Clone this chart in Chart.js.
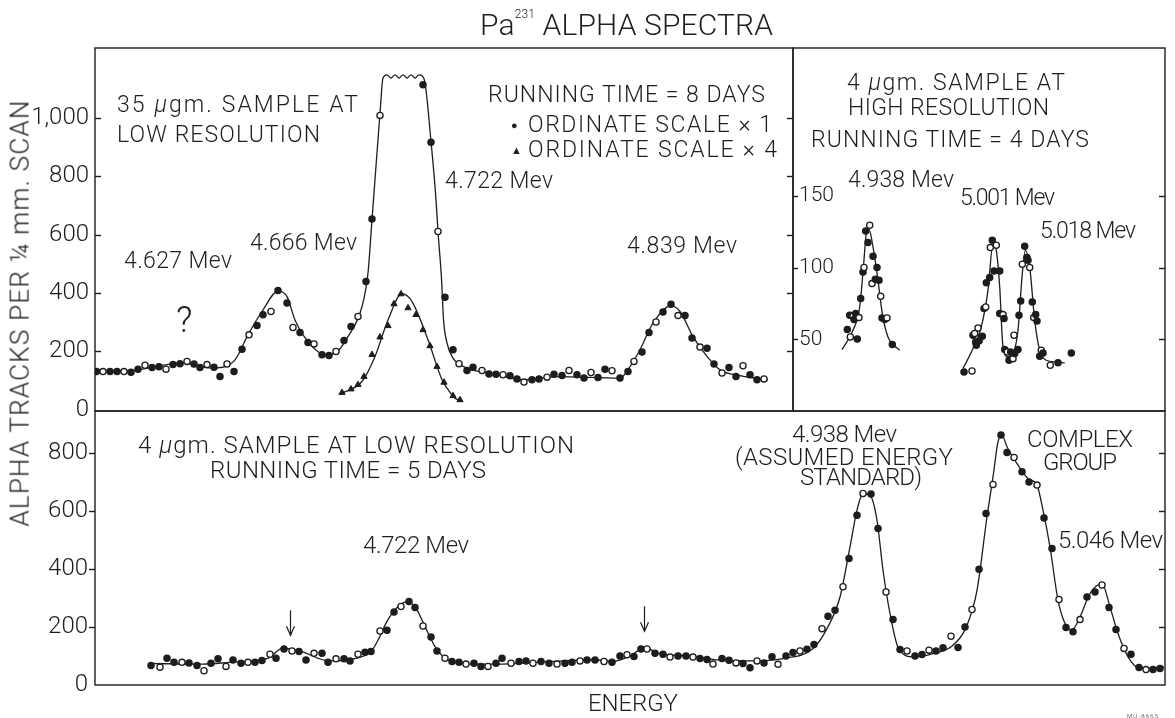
<!DOCTYPE html>
<html><head><meta charset="utf-8">
<script src="https://cdn.jsdelivr.net/npm/chart.js@4.4.1/dist/chart.umd.min.js"></script>
<style>
html,body{margin:0;padding:0;background:#fff;}
#wrap{position:relative;width:1175px;height:718px;overflow:hidden;background:#fff;}
#wrap canvas{position:absolute;left:0;top:0;}
.t{position:absolute;white-space:nowrap;line-height:1;color:#1e1e1e;font-family:Roboto,"Liberation Sans",sans-serif;font-weight:300;}
</style></head>
<body><div id="wrap">
<canvas id="cA" width="1175" height="718"></canvas>
<canvas id="cB" width="1175" height="718"></canvas>
<canvas id="cC" width="1175" height="718"></canvas>
</div>
<script>
// ---------- DATA (x = scan position along the energy axis, arbitrary units; y = alpha tracks per 1/4 mm scan) ----------
// Panel A: 35 µgm sample at low resolution, ordinate scale x1
const lowRes35_scale1 = [[0.15,131],[0.8,131],[1.5,131],[2.2,131],[2.9,131],[3.6,129],[4.3,139],[5.0,153],[5.7,145],[6.4,148],[7.1,139],[7.8,155],[8.5,158],[9.2,166],[9.9,157],[10.5,145],[11.2,155],[11.9,146],[12.5,114],[13.2,157],[13.9,131],
 [14.7,208],[15.4,257],[16.2,289],[16.8,326],[17.6,337],[18.3,409],[19.2,366],[19.8,282],[20.5,265],[21.3,231],[21.9,226],[22.7,189],[23.4,186],[24.1,200],[24.9,238],[25.6,286],[26.3,320],[27.1,440],[27.7,654],[28.5,1009],
 [32.8,1114],[33.6,917],[34.3,611],[35.0,386],[35.8,206],[36.4,158],[37.2,135],[37.8,146],[38.7,135],[39.4,123],[40.1,122],[40.8,120],[41.5,117],[42.2,106],[42.9,95],[43.7,103],[44.4,106],[45.2,112],[45.9,122],[46.7,118],[47.4,135],[48.2,120],[48.9,109],[49.6,128],[50.3,111],[51.0,139],[51.7,134],[52.5,109],[53.3,131],[53.9,166],[54.7,198],[55.4,265],[56.1,301],[56.8,335],[57.6,362],[58.3,323],[59.0,323],[59.7,246],[60.5,215],[61.2,211],[61.9,157],[62.7,126],[63.4,145],[64.1,114],[64.8,151],[65.5,120],[66.2,103],[66.9,106]];
const lowRes35_curve1 = [[0,131],[3.3,133],[8.7,160],[11.7,143],[13.0,148],[14.0,171],[15.3,257],[16.7,337],[18.3,406],[19.2,388],[20.0,308],[21.3,234],[23.0,189],[24.0,194],[25.3,251],[26.7,354],[27.3,469],[27.7,651],[28.5,1017],[28.8,1137],
 [29.2,1148],[29.6,1137],[30.0,1148],[30.4,1137],[30.8,1148],[31.2,1137],[31.6,1148],[32.0,1137],[32.4,1148],[32.9,1135],
 [33.6,920],[34.1,720],[34.3,611],[34.65,450],[34.85,310],[35.2,229],[35.8,177],[37.2,143],[39.5,126],[42.8,103],[46.2,114],[52.5,109],[53.5,148],[54.5,206],[55.8,297],[57.6,356],[58.5,337],[59.8,251],[61.2,183],[62.5,137],[64.5,117],[67.3,103]];
// Panel A: ordinate scale x4 (4.722 Mev peak)
const lowRes35_scale4 = [[24.7,59],[25.6,71],[26.3,86],[26.9,114],[27.7,189],[28.5,249],[29.3,288],[29.9,363],[30.6,397],[31.3,349],[32.1,326],[32.8,274],[33.5,219],[34.2,148],[34.9,94],[35.8,48],[36.5,34]];
const lowRes35_curve4 = [[24.7,57],[26.7,97],[28.0,183],[29.3,308],[30.7,398],[31.7,371],[33.3,240],[34.7,103],[35.2,74],[36.0,40],[36.7,30]];

// Panel B: 4 µgm sample at high resolution
const highRes4_points = [[5.43,56.8],[5.73,51.6],[6.43,50.2],[5.67,66.7],[6.0,66.0],[6.27,67.9],[6.1,63.7],[6.6,65.1],[6.77,78.4],[7.0,96.9],[7.1,100],[7.27,125.5],[7.5,117.4],[7.67,129.5],[8.0,107.9],[8.4,100],[7.9,88.8],[8.23,91.8],[8.6,91.1],[8.77,80],[8.9,64.9],[9.17,63.7],[9.4,64.9],[9.93,46.3],
 [17.1,27.2],[17.9,27.9],[18.27,48.1],[18.0,52.8],[18.17,54],[18.33,45.8],[18.6,48.8],[18.5,57.9],[18.93,52.1],[19.1,71.4],[19.27,72.5],[19.33,89.3],[19.67,93],[19.73,113.9],[19.93,119],[20.1,97.6],[20.33,115.5],[20.67,97.6],[20.67,67.9],[21.0,67.2],[21.1,64.4],[21.17,42.8],[21.43,41.1],[21.6,35.4],[21.77,41.1],[22.0,36.5],[22.17,40],[22.5,42.8],[22.1,52.8],[22.6,66.7],[22.77,76.7],[22.93,102.3],[23.17,114.9],[23.4,107],[23.67,100],[23.5,105.1],[23.93,76],[24.07,65.1],[24.27,67.2],[24.4,62.8],[24.83,42.3],[24.67,38.1],[25.0,40.4],[25.73,31.9],[26.5,33.7],[27.83,40.4]];
const highRes4_curve4938 = [[4.9,42.8],[6.0,56.3],[6.67,72.5],[7.07,102.8],[7.33,123.7],[7.6,126.5],[8.0,114.4],[8.5,91.1],[8.93,67.9],[9.5,51.6],[10.67,42.3]];
const highRes4_curve5001 = [[17.0,29.6],[18.0,43.5],[18.83,58.6],[19.5,84.2],[20.0,116.7],[20.33,112],[20.67,86.5],[21.0,44.6],[21.5,37.7],[22.0,40],[22.5,56.3],[22.93,95.8],[23.23,112],[23.67,100.4],[24.17,63.2],[24.67,42.3],[25.33,35.4],[26.33,34.2],[27.17,33.5]];

// Panel C: 4 µgm sample at low resolution
const lowRes4_points = [[5.6,67],[6.5,61],[7.2,92],[7.9,78],[8.7,78],[9.4,76],[10.2,67],[10.9,49],[11.6,75],[12.3,90],[13.1,64],[13.8,86],[14.6,75],[15.3,78],[16.0,78],[16.7,84],[17.5,106],[18.1,92],[18.9,124],[19.7,117],[20.4,115],[21.1,86],[21.9,109],[22.7,109],[23.3,78],[24.1,90],[24.9,90],[25.5,83],[26.3,106],[27.0,113],[27.6,115],[28.5,186],[29.2,188],[29.9,251],[30.6,270],[31.4,287],[32.0,267],[32.8,203],[33.6,165],[34.2,117],[35.0,92],[35.7,81],[36.4,78],[37.1,72],[37.9,75],[38.6,64],[39.3,64],[40.1,75],[40.7,92],[41.6,75],[42.4,81],[43.1,83],[43.8,75],[44.6,81],[45.4,75],[46.2,72],[47.0,75],[47.7,78],[48.5,83],[49.2,86],[50.0,86],
 [50.9,81],[51.7,78],[52.5,100],[53.2,104],[53.9,98],[54.6,124],[55.2,124],[56.0,109],[56.8,106],[57.5,96],[58.3,100],[59.1,100],[59.8,96],
 [60.5,91],[61.2,88],[61.8,72],[62.7,91],[63.4,85],[64.1,76],[64.8,74],[65.5,59],[66.2,83],[66.9,76],[67.7,97],[68.3,71],[69.1,100],[69.8,112],[70.5,117],[71.2,123],[71.9,139],[72.7,194],[73.3,237],[74.0,257],[74.8,338],[75.4,435],[76.2,584],[76.8,659],[77.6,657],[78.3,539],[79.1,320],[79.8,225],[80.5,122],[81.2,117],[82.0,100],[82.7,105],[83.4,120],[84.1,117],[84.8,128],[85.6,168],[86.3,129],[87.0,200],[87.7,260],[88.4,398],[89.1,590],[89.8,690],[90.6,860],[91.2,800],[91.9,783],[92.7,734],[93.4,699],[94.2,688],[94.9,575],[95.7,470],[96.4,294],[97.1,198],[97.8,183],[98.5,225],[99.2,303],[100.0,320],[100.7,344],[101.4,267],[102.1,191],[102.9,126],[103.6,106],[104.4,60],[105.1,53],[105.8,53],[106.5,57]];
const lowRes4_curve = [[5.6,74],[10.8,72],[13.5,78],[17.3,92],[18.8,127],[20.7,115],[22.3,92],[23.4,83],[26.1,92],[27.6,115],[28.4,161],[29.2,219],[30.3,270],[31.3,287],[32.2,258],[33.0,201],[34.1,127],[35.3,86],[37.6,72],[40.3,72],[44.1,78],[50.2,86],[51.8,81],[53.7,104],[54.9,129],[56.4,109],[59.4,100],[62.5,86],[65.5,83],[68.8,91],[71.8,126],[73.2,194],[74.5,303],[75.5,475],[76.2,602],[76.8,659],[77.5,653],[78.2,567],[78.8,395],[79.5,246],[80.3,131],[81.8,97],[83.8,108],[85.8,137],[87.2,206],[88.2,326],[89.2,579],[89.8,716],[90.3,837],[90.7,860],[91.2,820],[92.2,762],[93.3,711],[94.2,688],[94.8,602],[95.5,475],[96.3,292],[97.0,212],[97.7,189],[98.5,234],[99.5,315],[100.7,349],[101.5,269],[102.3,177],[103.3,97],[104.5,57],[106.9,62]];

// Tick labels
const ticksTop = [0,200,400,600,800,1000];
const ticksHighRes = [50,100,150];
const ticksBottom = [0,200,400,600,800];
// Arrows marking weak lines in the bottom spectrum (x position, arrow top, arrow tip in counts)
const arrowMarks = [[19.5,257,171],[54.9,271,185]];

// ---------- RENDERING ----------
const W = 1175, H = 718;
const INK = '#1d1d1d';
const TICKFONT = 'Roboto, "Liberation Sans", sans-serif';
const toXY = arr => arr.map(p => ({x: p[0], y: p[1]}));

const decoPlugin = {
  id: 'deco',
  afterDraw(chart, args, opts) {
    const {ctx, chartArea: a} = chart;
    const x = chart.scales.x, y = chart.scales.y;
    ctx.save();
    ctx.strokeStyle = INK; ctx.lineWidth = 1.4;
    ctx.strokeRect(a.left, a.top, a.right - a.left, a.bottom - a.top);
    (opts.marks || []).forEach(m => {
      m.values.forEach(v => {
        const py = Math.round(y.getPixelForValue(v)) + 0.5;
        const x0 = m.side === 'left' ? a.left : a.right;
        const dir = (m.side === 'left' ? 1 : -1) * (m.inward ? 1 : -1);
        ctx.beginPath(); ctx.moveTo(x0, py); ctx.lineTo(x0 + dir * m.len, py); ctx.stroke();
      });
    });
    ctx.lineWidth = 1.2;
    (opts.arrows || []).forEach(ar => {
      const px = Math.round(x.getPixelForValue(ar[0])) + 0.5;
      const y1 = y.getPixelForValue(ar[1]), y2 = y.getPixelForValue(ar[2]);
      ctx.beginPath(); ctx.moveTo(px, y1); ctx.lineTo(px, y2); ctx.stroke();
      ctx.beginPath(); ctx.moveTo(px - 4, y2 - 9); ctx.lineTo(px, y2); ctx.lineTo(px + 4, y2 - 9); ctx.stroke();
    });
    ctx.restore();
  }
};

const circleFill = c => (c.dataIndex % 3 === 1 ? '#ffffff' : INK);
function pointsSet(data) {
  return {data: toXY(data), showLine: false, pointStyle: 'circle', pointRadius: 3.1,
    pointBorderWidth: 1.3, pointBorderColor: INK, pointBackgroundColor: circleFill};
}
function triSet(data) {
  return {data: toXY(data), showLine: false, pointStyle: 'triangle', pointRadius: 3.6,
    pointBorderWidth: 1, pointBorderColor: INK, pointBackgroundColor: INK};
}
function curveSet(data) {
  return {data: toXY(data), showLine: true, pointRadius: 0, borderColor: INK, borderWidth: 1.3,
    cubicInterpolationMode: 'monotone', fill: false};
}

// area = [left, top, right, bottom] of the plot frame; axisW = width kept for the tick labels at the left
function makeChart(id, area, axisW, xMax, yMin, yMax, tickVals, tickOpts, datasets, deco) {
  return new Chart(document.getElementById(id), {
    type: 'scatter',
    data: {datasets},
    options: {
      responsive: false, animation: false, events: [], devicePixelRatio: 1,
      layout: {padding: {left: area[0] - axisW, top: area[1], right: W - area[2], bottom: H - area[3]}},
      plugins: {legend: {display: false}, tooltip: {enabled: false}, deco},
      scales: {
        x: {type: 'linear', min: 0, max: xMax, display: false},
        y: {type: 'linear', min: yMin, max: yMax, position: 'left',
          afterFit: s => { s.width = axisW; },
          afterBuildTicks: s => { s.ticks = tickVals.map(v => ({value: v})); },
          grid: {display: false, drawTicks: false}, border: {display: false},
          ticks: Object.assign({color: INK, autoSkip: false, maxRotation: 0,
            callback: v => v.toLocaleString('en-US')}, tickOpts)}
      }
    },
    plugins: [decoPlugin]
  });
}

// Panel A (top left)
makeChart('cA', [95, 48, 793, 411], 95, 69.8, -4, 1240, ticksTop,
  {font: {family: TICKFONT, size: 24, weight: 300}, padding: 6},
  [pointsSet(lowRes35_scale1), triSet(lowRes35_scale4), curveSet(lowRes35_curve1), curveSet(lowRes35_curve4)],
  {marks: [{side: 'left', inward: true, len: 6, values: [200,400,600,800,1000]},
           {side: 'right', inward: true, len: 6, values: [200,400,600,800,1000]}]});

// Panel B (top right)
makeChart('cB', [793, 48, 1165, 411], 0, 37.2, 0, 253, ticksHighRes,
  {font: {family: TICKFONT, size: 21, weight: 300}, padding: 6, mirror: true},
  [pointsSet(highRes4_points), curveSet(highRes4_curve4938), curveSet(highRes4_curve5001)],
  {marks: [{side: 'left', inward: true, len: 5, values: ticksHighRes},
           {side: 'right', inward: true, len: 6, values: ticksHighRes}]});

// Panel C (bottom)
makeChart('cC', [95, 411, 1165, 685], 95, 107, 0, 943, ticksBottom,
  {font: {family: TICKFONT, size: 24, weight: 300}, padding: 7},
  [pointsSet(lowRes4_points), curveSet(lowRes4_curve)],
  {marks: [{side: 'left', inward: false, len: 6, values: [200,400,600,800]},
           {side: 'right', inward: true, len: 6, values: [200,400,600,800]}],
   arrows: arrowMarks});

// ---------- TEXT ----------
const wrap = document.getElementById('wrap');
function addText(o) {
  const d = document.createElement('div');
  d.className = 't';
  d.style.fontSize = o.s + 'px';
  if (o.html) d.innerHTML = o.html; else d.textContent = o.t;
  wrap.appendChild(d);
  const n = d.textContent.length;
  if (o.w && n > 1) {
    const nat = d.getBoundingClientRect().width;
    d.style.letterSpacing = ((o.w - nat) / (n - 1)) + 'px';
  }
  d.style.left = o.x + 'px';
  d.style.top = (o.b - 0.84 * o.s) + 'px';
  return d;
}
const texts = [
  {html: 'Pa<span style="font-size:12px;position:relative;top:-17px;">231</span> ALPHA SPECTRA', x: 480, b: 35, s: 30, w: 293},
  {html: '35 <i>µ</i>gm. SAMPLE AT', x: 117, b: 112, s: 23, w: 241},
  {t: 'LOW RESOLUTION', x: 117, b: 142, s: 23, w: 203},
  {t: 'RUNNING TIME = 8 DAYS', x: 488, b: 102, s: 23, w: 277},
  {t: '●', x: 511, b: 129, s: 11},
  {t: 'ORDINATE SCALE × 1', x: 528, b: 132, s: 23, w: 244},
  {t: '▲', x: 511, b: 154, s: 11},
  {t: 'ORDINATE SCALE × 4', x: 528, b: 157, s: 23, w: 249},
  {t: '4.722 Mev', x: 445, b: 188, s: 23, w: 108},
  {t: '4.839 Mev', x: 627, b: 253, s: 23, w: 110},
  {t: '4.666 Mev', x: 250, b: 250, s: 23, w: 107},
  {t: '4.627 Mev', x: 124, b: 268, s: 23, w: 108},
  {t: '?', x: 176, b: 332, s: 36},
  {html: '4 <i>µ</i>gm. SAMPLE AT', x: 847, b: 90, s: 23, w: 218},
  {t: 'HIGH RESOLUTION', x: 848, b: 115, s: 23, w: 201},
  {t: 'RUNNING TIME = 4 DAYS', x: 811, b: 147, s: 23, w: 278},
  {t: '4.938 Mev', x: 848, b: 187, s: 23, w: 106},
  {t: '5.001 Mev', x: 960, b: 205, s: 23, w: 95},
  {t: '5.018 Mev', x: 1040, b: 238, s: 23, w: 96},
  {html: '4 <i>µ</i>gm. SAMPLE AT LOW RESOLUTION', x: 138, b: 453, s: 24, w: 436},
  {t: 'RUNNING TIME = 5 DAYS', x: 210, b: 478, s: 24, w: 276},
  {t: '4.722 Mev', x: 363, b: 553, s: 24, w: 106},
  {t: '4.938 Mev', x: 792, b: 442, s: 24, w: 105},
  {t: '(ASSUMED ENERGY', x: 735, b: 465, s: 24, w: 218},
  {t: 'STANDARD)', x: 800, b: 485, s: 24, w: 122},
  {t: 'COMPLEX', x: 1027, b: 447, s: 24, w: 106},
  {t: 'GROUP', x: 1043, b: 470, s: 24, w: 74},
  {t: '5.046 Mev', x: 1058, b: 548, s: 24, w: 105},
  {t: 'ENERGY', x: 588, b: 711, s: 24, w: 90},
  {t: 'MU-8665', x: 1127, b: 718, s: 6, w: 31}
];
texts.forEach(addText);

// rotated y-axis title
const yt = addText({t: 'ALPHA TRACKS PER ¼ mm. SCAN', x: 0, b: 0, s: 26, w: 426});
const r = yt.getBoundingClientRect();
yt.style.left = (20 - r.width / 2) + 'px';
yt.style.top = (313 - r.height / 2) + 'px';
yt.style.transform = 'rotate(-90deg)';
yt.style.transformOrigin = '50% 50%';
</script>
</body></html>
